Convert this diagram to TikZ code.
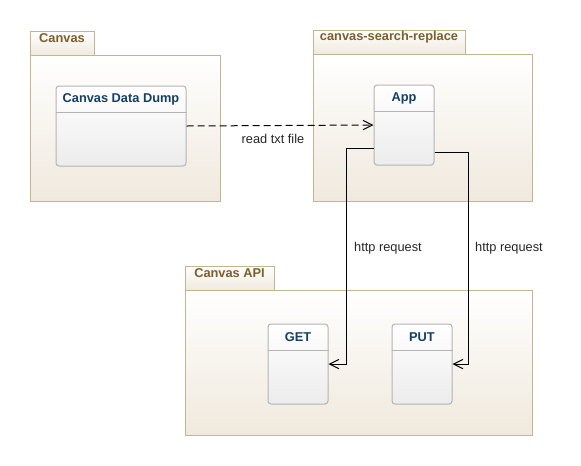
\documentclass[tikz,border=0pt]{standalone}
\usepackage{fontspec}
\setmainfont{Liberation Sans}
\usetikzlibrary{
	calc,          %计算
	fit,           %按坐标框住
	positioning,   %定位
	arrows.meta    %箭头
}
\definecolor{pkgline}{HTML}{C4B592}
\definecolor{pkgbottom}{HTML}{F0E9DD}
\definecolor{pkgtext}{HTML}{7B5F2C}
\definecolor{clsline}{HTML}{B4B4B4}
\definecolor{clsbottom}{HTML}{ECECEC}
\definecolor{clstext}{HTML}{173F63}
\tikzset{
	every picture/.style={
		x=0.75pt,y=-0.75pt,
		>={Straight Barb[length=7pt,width=7pt]}
}}
\tikzset{
	pkgbody/.style={draw=pkgline,line width=0.75pt,
		top color=white,bottom color=pkgbottom,inner sep=0pt},
	pkgtab/.style={pkgbody,text=pkgtext,
		font=\bfseries\fontsize{9.6}{11}\selectfont},
	clsbox/.style={draw=clsline,line width=0.75pt,rounded corners=2.25pt,
		top color=white,bottom color=clsbottom,inner sep=0pt},
	clstitle/.style={text=clstext,font=\bfseries\fontsize{9.6}{11}\selectfont},
	clssep/.style={draw=clsline,line width=0.75pt},
	link/.style={line width=0.75pt,black},
	linklabel/.style={text=black!85,font=\fontsize{9.6}{11}\selectfont}
}
\begin{document}
\begin{tikzpicture}
\useasboundingbox (0,0) rectangle (581,465);
% 包
\foreach \name/\label/\tx/\ty/\bx/\ax/\ay/\cx/\cy in {
	canvas/Canvas/30/31/94/30/55/220/201,
	csr/canvas-search-replace/313/30/465/313/54/532/201,
	api/Canvas API/185/266/274/185/290/532/435}{
	\node[pkgbody,fit={(\ax,\ay) (\cx,\cy)}] (\name body) {};
	\node[pkgtab,fit={(\tx,\ty) (\bx,\ay)}] (\name tab) {\label};
}
% 类
\foreach \name/\label/\ax/\ay/\cx/\cy in {
	Dump/Canvas Data Dump/56/86/186/166,
	App/App/374/85/434/165,
	GET/GET/268/324/328/404,
	PUT/PUT/392/324/452/404}{
	\node[clsbox,fit={(\ax,\ay) (\cx,\cy)}] (\name) {};
	\node[clstitle] at ($(\name.north)+(0,13.5)$) {\label};
	\draw[clssep] ($(\name.north west)+(0,26.5)$) -- ($(\name.north east)+(0,26.5)$);
}
% 连线
\draw[link,dashed,dash pattern=on 5.25pt off 3pt,->] (Dump.east) -- (App.west);
\node[linklabel] (readlbl) at (273,139) {read txt file};
\draw[link,->] ($(App.west)+(0,23)$) -| ($(GET.east)+(18,0)$) |- (GET.east);
\draw[link,->] ($(App.east)+(0,27)$) -| ($(PUT.east)+(16,0)$) |- (PUT.east);
\node[linklabel] (getlbl) at (388,248) {http request};
\node[linklabel] (putlbl) at (509,248) {http request};
\end{tikzpicture}
\end{document}
